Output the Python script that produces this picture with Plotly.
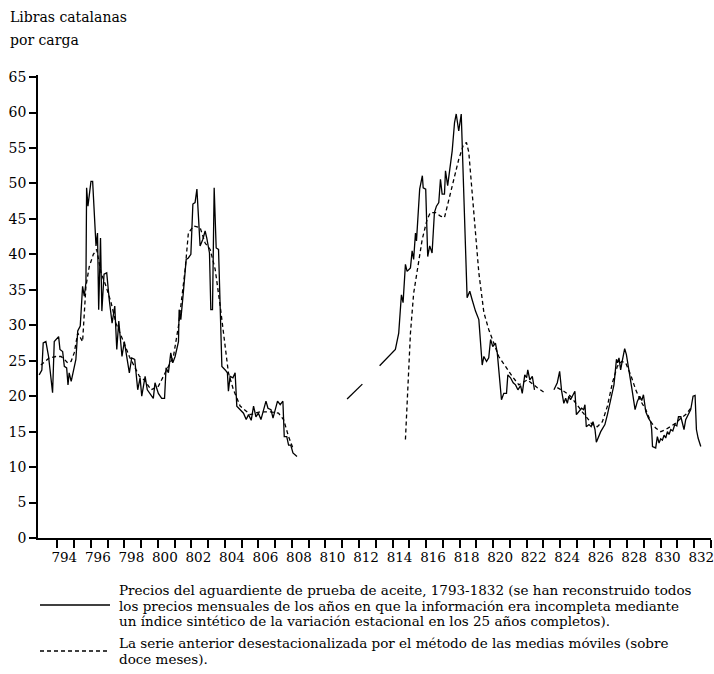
import plotly.graph_objects as go

# ---------------- data ----------------
solid_years_1 = [1792.92, 1793.08, 1793.16, 1793.32, 1793.48, 1793.72, 1793.82, 1794.08, 1794.16, 1794.32,
                 1794.42, 1794.56, 1794.64, 1794.71, 1794.83, 1794.95, 1795.11, 1795.22, 1795.37, 1795.51,
                 1795.61, 1795.71, 1795.75, 1795.83, 1795.91, 1796.01, 1796.11, 1796.31, 1796.40, 1796.47,
                 1796.58, 1796.66, 1796.79, 1796.95, 1797.10, 1797.27, 1797.43, 1797.55, 1797.67, 1797.86,
                 1798.00, 1798.14, 1798.30, 1798.44, 1798.62, 1798.80, 1798.94, 1799.04, 1799.24, 1799.37,
                 1799.54, 1799.73, 1799.83, 1800.03, 1800.23, 1800.40, 1800.49, 1800.63, 1800.77, 1800.89,
                 1801.03, 1801.23, 1801.27, 1801.37, 1801.52, 1801.69, 1801.82, 1801.97, 1802.09, 1802.22,
                 1802.33, 1802.42, 1802.52, 1802.68, 1802.82, 1802.92, 1803.08, 1803.16, 1803.26, 1803.36,
                 1803.48, 1803.62, 1803.72, 1803.82, 1804.02, 1804.15, 1804.21, 1804.31, 1804.48, 1804.61,
                 1804.71, 1804.91, 1805.11, 1805.27, 1805.41, 1805.57, 1805.71, 1805.85, 1806.00, 1806.15,
                 1806.30, 1806.45, 1806.57, 1806.75, 1806.87, 1807.00, 1807.14, 1807.30, 1807.46, 1807.54,
                 1807.69, 1807.80, 1807.93, 1808.06, 1808.20, 1808.30]
solid_vals_1 = [23.0, 23.7, 27.5, 27.7, 25.6, 20.5, 27.7, 28.4, 26.6, 26.3,
                24.2, 24.0, 21.6, 23.3, 22.1, 23.3, 25.2, 29.2, 29.9, 35.5,
                34.1, 36.0, 49.4, 46.8, 48.2, 50.3, 50.3, 41.2, 43.0, 32.2,
                42.3, 32.0, 37.2, 37.4, 33.6, 30.3, 32.7, 26.6, 30.6, 25.6,
                27.7, 25.4, 23.3, 25.4, 25.2, 20.9, 22.6, 20.0, 22.8, 20.9,
                20.4, 19.7, 21.9, 20.4, 19.7, 19.7, 24.0, 23.3, 26.1, 24.7,
                25.6, 27.7, 32.2, 30.8, 34.6, 39.3, 39.5, 40.0, 47.1, 47.3,
                49.2, 45.9, 41.2, 42.1, 43.3, 42.3, 40.2, 32.2, 32.2, 49.4,
                40.9, 40.7, 32.2, 24.2, 23.7, 23.3, 20.7, 22.8, 22.6, 23.3,
                18.6, 18.1, 17.6, 16.7, 17.4, 16.6, 18.6, 17.1, 17.6, 16.7,
                18.1, 19.3, 18.3, 18.1, 16.9, 18.1, 19.3, 18.8, 19.3, 14.3,
                14.3, 13.1, 13.1, 12.0, 11.7, 11.5]

solid_years_2 = [1811.29, 1812.20]
solid_vals_2 = [19.6, 21.7]

solid_years_3 = [1813.23, 1814.17, 1814.37, 1814.53, 1814.63, 1814.77, 1814.87, 1815.07, 1815.17, 1815.26,
                 1815.37, 1815.43, 1815.62, 1815.78, 1815.83, 1815.98, 1816.10, 1816.22, 1816.36, 1816.50,
                 1816.62, 1816.76, 1816.86, 1816.96, 1817.10, 1817.16, 1817.29, 1817.46, 1817.56, 1817.70,
                 1817.80, 1817.95, 1818.10, 1818.45, 1818.61, 1818.75, 1818.95, 1819.15, 1819.35, 1819.45,
                 1819.61, 1819.74, 1819.85, 1819.98, 1820.14, 1820.25, 1820.50, 1820.64, 1820.80, 1820.88,
                 1821.04, 1821.20, 1821.34, 1821.48, 1821.64, 1821.74, 1821.89, 1822.00, 1822.07, 1822.19,
                 1822.34, 1822.47]
solid_vals_3 = [24.3, 26.6, 28.9, 34.3, 33.2, 38.6, 37.6, 38.1, 40.5, 39.3,
                43.0, 41.9, 49.2, 51.1, 49.4, 49.2, 39.7, 41.2, 40.2, 45.9,
                46.8, 47.3, 50.6, 48.5, 48.5, 51.8, 49.7, 52.9, 54.6, 58.6,
                59.8, 57.4, 59.8, 33.9, 34.8, 33.6, 32.0, 30.8, 24.4, 25.6,
                24.9, 25.4, 28.0, 27.0, 27.5, 26.1, 19.5, 20.4, 20.4, 23.0,
                22.6, 21.9, 21.6, 20.9, 21.5, 20.4, 23.0, 22.6, 23.7, 22.3,
                22.8, 20.9]

solid_years_4 = [1823.63, 1823.83, 1823.97, 1824.09, 1824.22, 1824.33, 1824.43, 1824.52, 1824.62, 1824.76,
                 1824.88, 1824.97, 1825.12, 1825.28, 1825.40, 1825.48, 1825.56, 1825.72, 1825.85, 1825.96,
                 1826.08, 1826.16, 1826.42, 1826.67, 1826.82, 1827.01, 1827.21, 1827.36, 1827.43, 1827.51,
                 1827.61, 1827.71, 1827.85, 1827.95, 1828.11, 1828.27, 1828.47, 1828.61, 1828.75, 1828.87,
                 1828.97, 1829.11, 1829.27, 1829.40, 1829.46, 1829.51, 1829.70, 1829.80, 1829.90, 1830.00,
                 1830.10, 1830.20, 1830.30, 1830.40, 1830.50, 1830.60, 1830.72, 1830.84, 1830.96, 1831.06,
                 1831.20, 1831.30, 1831.39, 1831.49, 1831.66, 1831.79, 1831.93, 1832.05, 1832.13, 1832.23,
                 1832.39]
solid_vals_4 = [20.9, 21.9, 23.5, 20.7, 19.0, 19.7, 19.0, 20.0, 19.5, 20.2,
                20.7, 17.4, 17.8, 18.3, 18.1, 18.8, 15.7, 16.0, 15.7, 16.4,
                15.3, 13.5, 15.0, 16.0, 17.4, 19.5, 21.6, 25.2, 24.7, 25.4,
                23.7, 25.0, 26.7, 25.9, 23.7, 21.2, 18.1, 19.3, 20.0, 19.4,
                20.2, 17.8, 16.9, 16.4, 15.3, 12.9, 12.7, 14.3, 13.4, 14.0,
                13.8, 14.5, 14.1, 15.0, 14.6, 15.3, 15.1, 16.0, 15.8, 17.1,
                17.1, 16.2, 15.3, 16.7, 17.4, 18.1, 20.0, 20.1, 15.3, 14.1,
                12.9]

dash_years_1 = [1793.02, 1793.52, 1793.92, 1794.22, 1794.42, 1794.62, 1794.82, 1795.01, 1795.22, 1795.51,
                1795.71, 1795.91, 1796.15, 1796.35, 1796.61, 1796.91, 1797.21, 1797.50, 1797.90, 1798.30,
                1798.60, 1798.90, 1799.19, 1799.60, 1800.03, 1800.43, 1800.93, 1801.23, 1801.43, 1801.63,
                1801.82, 1802.12, 1802.52, 1802.82, 1803.12, 1803.42, 1803.72, 1804.02, 1804.21, 1804.51,
                1804.91, 1805.51, 1806.11, 1806.71, 1807.20, 1807.50, 1807.80, 1808.10]
dash_vals_1 = [24.4, 25.4, 25.6, 25.6, 25.2, 24.7, 24.9, 26.1, 28.9, 27.7,
               35.5, 38.3, 40.0, 40.7, 37.4, 35.5, 33.2, 30.3, 28.0, 25.6,
               24.2, 22.8, 22.3, 20.9, 21.4, 23.3, 25.6, 29.9, 33.6, 37.9,
               43.0, 44.0, 43.8, 41.6, 40.7, 37.9, 32.7, 26.6, 23.3, 20.9,
               18.6, 17.4, 17.8, 17.8, 17.6, 16.7, 14.3, 12.4]

dash_years_2 = [1814.77, 1814.97, 1815.07, 1815.26, 1815.47, 1815.77, 1816.06, 1816.26, 1816.56, 1816.86,
                1817.10, 1817.36, 1817.65, 1817.95, 1818.21, 1818.41, 1818.55, 1818.75, 1818.95, 1819.15,
                1819.45, 1819.74, 1820.04, 1820.34, 1820.74, 1821.14, 1821.54, 1822.04, 1822.64, 1823.13]
dash_vals_2 = [13.9, 24.2, 28.9, 34.5, 37.9, 42.1, 44.9, 45.9, 45.9, 45.4,
               45.2, 47.8, 50.6, 53.4, 55.3, 55.8, 54.4, 48.7, 43.0, 37.4,
               31.8, 29.4, 27.5, 25.6, 24.2, 22.8, 21.6, 22.3, 21.2, 20.4]

dash_years_3 = [1823.83, 1824.22, 1824.62, 1824.92, 1825.32, 1825.62, 1825.92, 1826.22, 1826.52, 1826.82,
                1827.12, 1827.41, 1827.67, 1827.91, 1828.21, 1828.51, 1828.81, 1829.11, 1829.40, 1829.70,
                1830.00, 1830.30, 1830.60, 1830.90, 1831.20, 1831.49, 1831.79]
dash_vals_3 = [21.2, 20.7, 20.0, 19.0, 17.8, 16.9, 16.0, 15.7, 16.4, 18.6,
               21.9, 24.2, 24.9, 24.7, 23.0, 20.9, 19.3, 18.1, 16.4, 15.5,
               15.0, 15.3, 15.7, 16.2, 16.9, 17.4, 18.3]

y_ticks = [0, 5, 10, 15, 20, 25, 30, 35, 40, 45, 50, 55, 60, 65]
year_ticks = list(range(1794, 1834))
year_label_years = list(range(1794, 1833, 2))
year_labels = ["794", "796", "798", "800", "802", "804", "806", "808", "810", "812",
               "814", "816", "818", "820", "822", "824", "826", "828", "830", "832"]

y_title_lines = ["Libras catalanas", "por carga"]
legend_solid_lines = [
    "Precios del aguardiente de prueba de aceite, 1793-1832 (se han reconstruido todos",
    "los precios mensuales de los años en que la información era incompleta mediante",
    "un índice sintético de la variación estacional en los 25 años completos).",
]
legend_dash_lines = [
    "La serie anterior desestacionalizada por el método de las medias móviles (sobre",
    "doce meses).",
]


def join_segments(segs):
    xs, ys = [], []
    for i, (sx, sy) in enumerate(segs):
        if i:
            xs.append(None)
            ys.append(None)
        xs.extend(sx)
        ys.extend(sy)
    return xs, ys


sx, sy = join_segments([(solid_years_1, solid_vals_1), (solid_years_2, solid_vals_2),
                        (solid_years_3, solid_vals_3), (solid_years_4, solid_vals_4)])
dx, dy = join_segments([(dash_years_1, dash_vals_1), (dash_years_2, dash_vals_2),
                        (dash_years_3, dash_vals_3)])

# labels sit inside each labelled year (between two ticks)
LABEL_OFFSET = 0.42
year_label_pos = [y + LABEL_OFFSET for y in year_label_years]

# ---------------- layout geometry ----------------
W_PX, H_PX = 714, 674
L, R, T, B = 38, 3, 75, 136
PW = W_PX - L - R
PH = H_PX - T - B
FONT = "DejaVu Serif"


def px_x(px):
    return (px - L) / PW


def px_y(py):
    return (H_PX - B - py) / PH


fig = go.Figure()
fig.add_trace(go.Scatter(x=sx, y=sy, mode="lines", connectgaps=False,
                         line=dict(color="black", width=1.3), hoverinfo="skip"))
fig.add_trace(go.Scatter(x=dx, y=dy, mode="lines", connectgaps=False, xaxis="x2",
                         line=dict(color="black", width=1.3, dash="4px,3px"), hoverinfo="skip"))

annotations = []
for i, t in enumerate(y_title_lines):
    annotations.append(dict(text=t, x=px_x(8), y=px_y(17 + i * 23), xref="paper", yref="paper",
                            xanchor="left", yanchor="middle", showarrow=False,
                            font=dict(family=FONT, size=14, color="black")))
for i, t in enumerate(legend_solid_lines):
    annotations.append(dict(text=t, x=px_x(117), y=px_y(590 + i * 15.5), xref="paper", yref="paper",
                            xanchor="left", yanchor="middle", showarrow=False,
                            font=dict(family=FONT, size=13.5, color="black")))
for i, t in enumerate(legend_dash_lines):
    annotations.append(dict(text=t, x=px_x(117), y=px_y(643 + i * 15.5), xref="paper", yref="paper",
                            xanchor="left", yanchor="middle", showarrow=False,
                            font=dict(family=FONT, size=13.5, color="black")))

shapes = [
    dict(type="line", xref="paper", yref="paper", x0=px_x(40), x1=px_x(110),
         y0=px_y(605), y1=px_y(605), line=dict(color="black", width=1.3)),
    dict(type="line", xref="paper", yref="paper", x0=px_x(40), x1=px_x(110),
         y0=px_y(651), y1=px_y(651), line=dict(color="black", width=1.3, dash="4px,3px")),
]

fig.update_layout(
    width=W_PX, height=H_PX, autosize=False,
    margin=dict(l=L, r=R, t=T, b=B, pad=0, autoexpand=False),
    paper_bgcolor="white", plot_bgcolor="white",
    showlegend=False,
    font=dict(family=FONT, size=14, color="black"),
    xaxis=dict(range=[1792.85, 1833.0], tickmode="array", tickvals=year_ticks,
               ticktext=[""] * len(year_ticks), ticks="outside", ticklen=8, tickwidth=1.5,
               tickcolor="black", showline=True, linecolor="black", linewidth=1.5,
               showgrid=False, zeroline=False, fixedrange=True, automargin=False),
    xaxis2=dict(overlaying="x", matches="x", side="bottom", tickmode="array",
                tickvals=year_label_pos, ticktext=year_labels, ticks="outside", ticklen=7,
                tickangle=0, ticklabeloverflow="allow", tickcolor="rgba(0,0,0,0)",
                showline=False, showgrid=False, zeroline=False, automargin=False,
                tickfont=dict(family=FONT, size=13.5, color="black")),
    yaxis=dict(range=[0, 65.3], tickmode="array", tickvals=y_ticks, ticks="outside",
               ticklen=7, tickwidth=1.5, tickcolor="black", showline=True, linecolor="black",
               linewidth=1.5, showgrid=False, zeroline=False, automargin=False,
               tickfont=dict(family=FONT, size=14, color="black")),
    annotations=annotations,
    shapes=shapes,
)

page_fix = ("document.body.style.margin='0px';document.body.style.padding='0px';"
            "var gd=document.getElementById('{plot_id}');"
            "Plotly.relayout(gd,{width:714,height:674});")

fig.write_html("out.html", config={"responsive": False, "displayModeBar": False},
               post_script=page_fix)
